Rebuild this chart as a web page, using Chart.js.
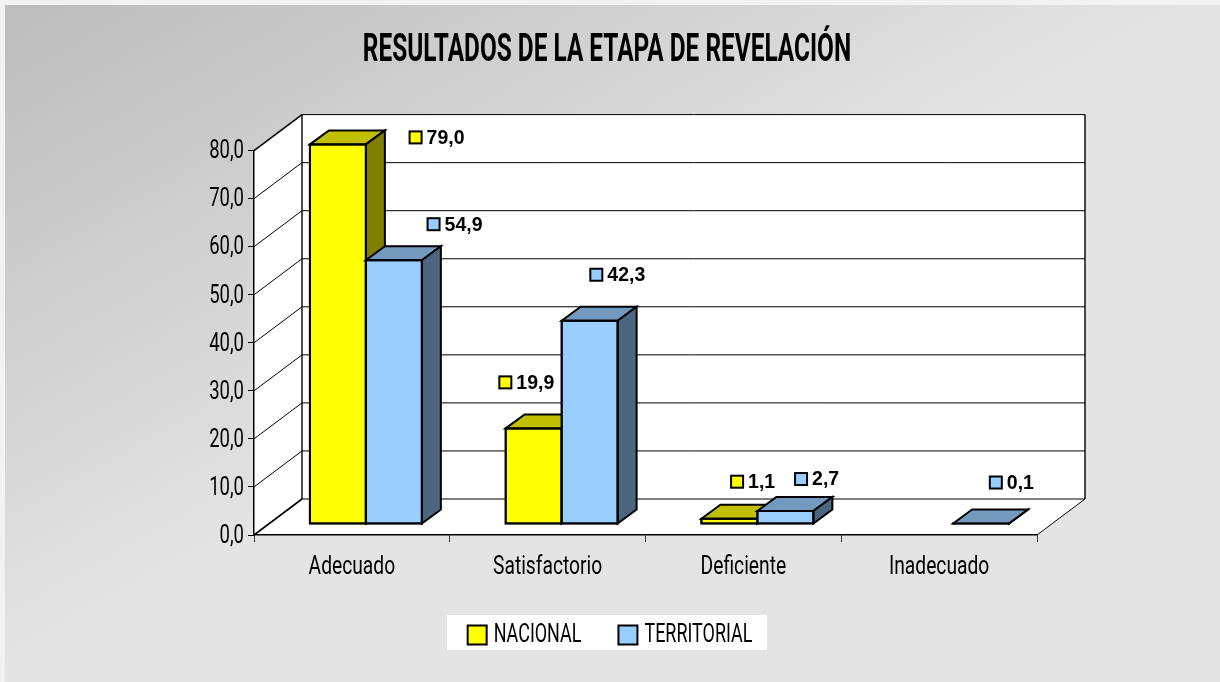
<!DOCTYPE html>
<html><head><meta charset="utf-8">
<style>html,body{margin:0;padding:0;background:#f2f2f2}#w{position:absolute;left:0;top:0;width:1220px;height:682px}</style>
<script src="https://cdn.jsdelivr.net/npm/chart.js@4/dist/chart.umd.min.js"></script>
</head><body><div id="w"><canvas id="c" width="1220" height="682"></canvas></div>
<script>
const categories = ['Adecuado','Satisfactorio','Deficiente','Inadecuado'];
const nacional = [79.0,19.9,1.1,null];
const territorial = [54.9,42.3,2.7,0.1];
const seriesNames = ['NACIONAL','TERRITORIAL'];
const yTicks = [0,10,20,30,40,50,60,70,80];
const titleText = 'RESULTADOS DE LA ETAPA DE REVELACIÓN';
// manual data-label placement (offset from the bar's top-centre)
const labelOffsets = [
  [[77,-7],[-29,-46],[7,-37],null],
  [[39,-36],[6,-46],[15,-32],[14,-41]]
];
const DISPLAY = 'Roboto';
const SQ = {title:0.642, normal:0.74, legend:0.69};
const DX=48, DY=36, bx=14, by=11, sx=19, sy=14;
const faces = [{top:'#C0C000',side:'#808000'},{top:'#7399BF',side:'#4D6680'}];

const cv = document.getElementById('c'), ctx0 = cv.getContext('2d');
// condensed display face: squeeze display text horizontally
const oFill = ctx0.fillText.bind(ctx0), oMeas = ctx0.measureText.bind(ctx0);
function sq(t){ if(!ctx0.font.includes(DISPLAY)) return 1; if(seriesNames.includes(t)) return SQ.legend; return ctx0.font.includes('bold')?SQ.title:SQ.normal; }
ctx0.fillText = function(t,x,y){ const f=sq(t); if(f===1) return oFill(t,x,y); if(seriesNames.includes(t)) x-=6; return oFill(t,x,y,oMeas(t).width*f); };
ctx0.measureText = function(t){ const m=oMeas(t), f=sq(t); if(f===1) return m; return {width:m.width*f, actualBoundingBoxAscent:m.actualBoundingBoxAscent, actualBoundingBoxDescent:m.actualBoundingBoxDescent}; };

function poly(c,pts,fill,lw){ c.beginPath(); pts.forEach((p,i)=>i?c.lineTo(p[0],p[1]):c.moveTo(p[0],p[1])); c.closePath(); if(fill){c.fillStyle=fill;c.fill();} c.lineWidth=lw; c.strokeStyle='#000'; c.lineJoin='miter'; if(lw)c.stroke(); }
function line(c,a,b,d,e,lw){ c.beginPath(); c.moveTo(a,b); c.lineTo(d,e); c.lineWidth=lw; c.strokeStyle='#000'; c.stroke(); }

const plugin3d = {
  id:'plugin3d',
  afterLayout(ch){ ch.legend.left+=6; ch.legend.right+=6; },
  beforeDraw(ch){
    const c=ch.ctx;
    c.fillStyle='#f2f2f2'; c.fillRect(0,0,1220,682);
    const g=c.createLinearGradient(5,5,290,519);
    g.addColorStop(0,'#bcbcbc'); g.addColorStop(1,'#e4e4e4');
    c.fillStyle=g; c.fillRect(5,5,1215,677);
    const {left:L,right:R}=ch.chartArea, y=ch.scales.y, y0=y.getPixelForValue(0), yT=y.getPixelForValue(80);
    c.fillStyle='#fff'; c.fillRect(447,615,320,35);
    poly(c,[[L,y0],[L+DX,y0-DY],[R+DX,y0-DY],[R,y0]],'#fff',0);
    poly(c,[[L,y0],[L+DX,y0-DY],[L+DX,yT-DY],[L,yT]],'#fff',0);
    c.fillStyle='#fff'; c.fillRect(L+DX,yT-DY,R-L,y0-yT);
    yTicks.forEach(v=>{ const p=y.getPixelForValue(v);
      line(c,L,p,L+DX,p-DY,(v===0||v===80)?1.6:1);
      line(c,L+DX,p-DY,R+DX,p-DY,1);
    });
    line(c,L+DX,yT-DY,L+DX,y0-DY,1.4);
    line(c,R+DX,yT-DY,R+DX,y0-DY,1.4);
    line(c,R,y0,R+DX,y0-DY,1);
  },
  beforeDatasetDraw(){ return false; },
  afterDatasetsDraw(ch){
    const c=ch.ctx;
    [0,1].forEach(i=>{
      const meta=ch.getDatasetMeta(i);
      meta.data.forEach((b,k)=>{
        if(ch.data.datasets[i].data[k]==null) return;
        const l=b.x-b.width/2+bx, r=b.x+b.width/2+bx, t=b.y-by, bm=b.base-by;
        poly(c,[[l,t],[l+sx,t-sy],[r+sx,t-sy],[r,t]],faces[i].top,2);
        poly(c,[[r,t],[r+sx,t-sy],[r+sx,bm-sy],[r,bm]],faces[i].side,2);
      });
      c.save(); c.translate(bx,-by); meta.controller.draw(); c.restore();
      // keep the outline full weight on very short bars
      meta.data.forEach((b,k)=>{
        if(ch.data.datasets[i].data[k]==null) return;
        const l=b.x-b.width/2+bx, r=b.x+b.width/2+bx, t=b.y-by, bm=b.base-by;
        poly(c,[[l,t],[r,t],[r,bm],[l,bm]],null,2);
      });
    });
    [0,1].forEach(i=>{
      const meta=ch.getDatasetMeta(i), ds=ch.data.datasets[i];
      meta.data.forEach((b,k)=>{
        const o=labelOffsets[i][k]; if(!o||ds.data[k]==null) return;
        const x=b.x+14.7+o[0], y=b.y-by+o[1];
        c.fillStyle=ds.backgroundColor; c.strokeStyle='#000'; c.lineWidth=2;
        c.fillRect(x-6,y-6,12,12); c.strokeRect(x-6,y-6,12,12);
        c.fillStyle='#000'; c.font='bold 19.5px "Liberation Sans"'; c.textAlign='left'; c.textBaseline='middle';
        c.fillText(ds.data[k].toFixed(1).replace('.',','),x+11,y+1);
      });
    });
  }
};

new Chart(ctx0,{
  type:'bar',
  data:{labels:categories,datasets:[
    {label:seriesNames[0],data:nacional,backgroundColor:'#FFFF00',borderColor:'#000',borderWidth:2,borderSkipped:false,inflateAmount:1},
    {label:seriesNames[1],data:territorial,backgroundColor:'#99CCFF',borderColor:'#000',borderWidth:2,borderSkipped:false,inflateAmount:1}
  ]},
  options:{
    responsive:false,animation:false,
    layout:{padding:{left:177,right:183,top:29,bottom:24}},
    datasets:{bar:{categoryPercentage:0.572,barPercentage:1}},
    plugins:{
      tooltip:{enabled:false},
      title:{display:true,text:titleText,color:'#000',font:{family:DISPLAY,size:38,weight:'bold'},padding:{top:0,bottom:76}},
      legend:{position:'bottom',labels:{boxWidth:19,boxHeight:19,padding:31,color:'#000',font:{family:DISPLAY,size:26}}}
    },
    scales:{
      x:{grid:{drawOnChartArea:false,offset:true,color:'#000',tickLength:7,tickColor:'#333'},border:{color:'#000',width:1.5},
         ticks:{color:'#000',padding:10,font:{family:DISPLAY,size:26},maxRotation:0,autoSkip:false},
         afterFit(s){s.height=56;}},
      y:{min:0,max:80,grid:{drawOnChartArea:false,color:'#000',tickLength:6},border:{color:'#000',width:1.5},
         ticks:{stepSize:10,color:'#000',padding:4,labelOffset:1.5,font:{family:DISPLAY,size:25},callback:v=>v.toFixed(1).replace('.',',')},
         afterFit(s){s.width=77;}}
    }
  },
  plugins:[plugin3d]
});
</script></body></html>
